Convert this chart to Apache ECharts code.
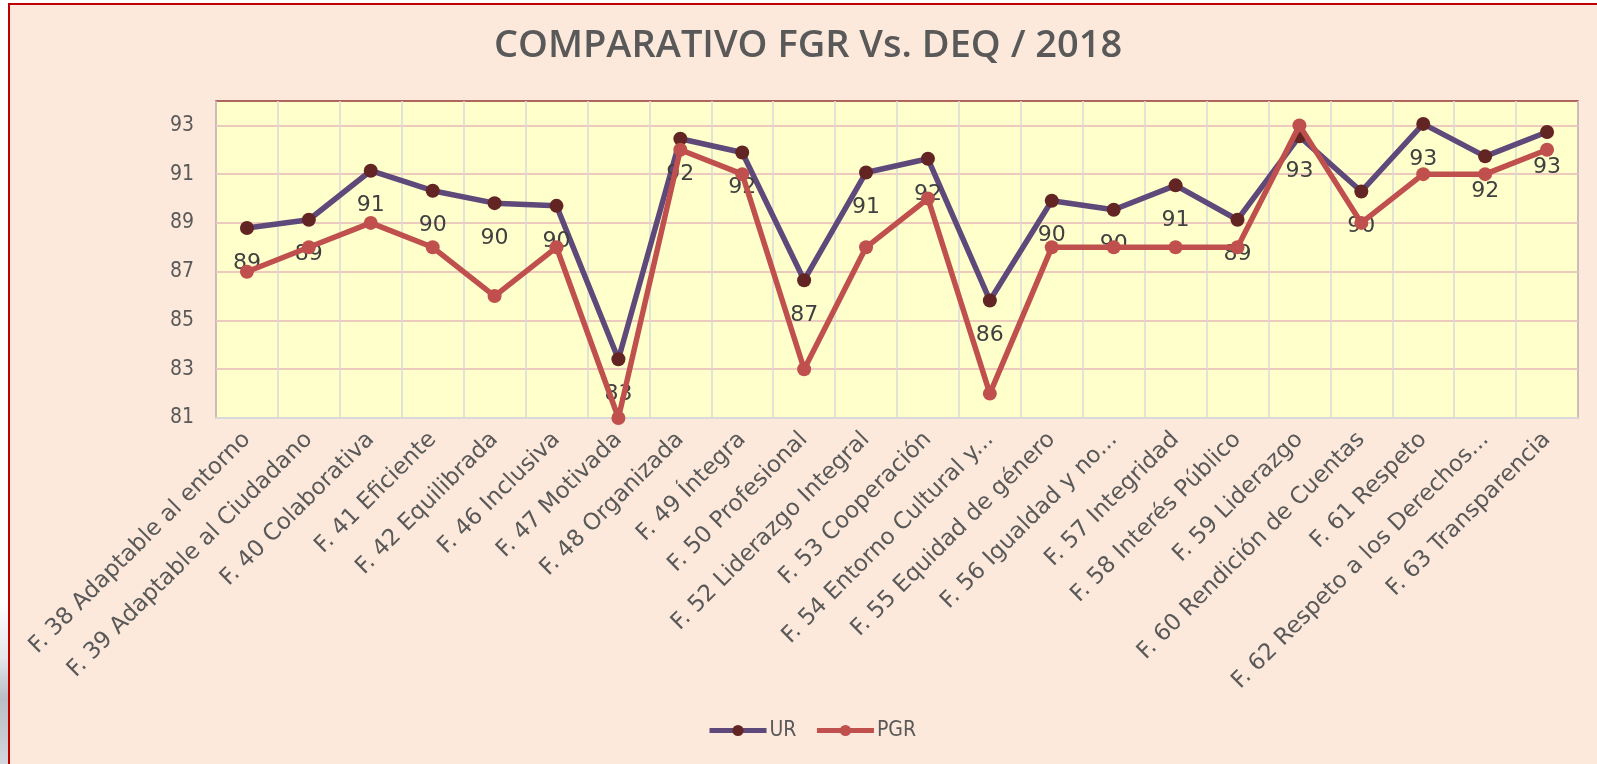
<!DOCTYPE html>
<html>
<head>
<meta charset="utf-8">
<title>COMPARATIVO FGR Vs. DEQ / 2018</title>
<script src="https://cdn.jsdelivr.net/npm/echarts@6/dist/echarts.min.js"></script>
<style>
  html, body { margin: 0; padding: 0; background: #ffffff; }
  #chart { width: 1597px; height: 764px; }
</style>
</head>
<body>
<div id="chart"></div>
<script>
// Factors evaluated
const categories = [
  'F. 38 Adaptable al entorno',
  'F. 39 Adaptable al Ciudadano',
  'F. 40 Colaborativa',
  'F. 41 Eficiente',
  'F. 42 Equilibrada',
  'F. 46 Inclusiva',
  'F. 47 Motivada',
  'F. 48 Organizada',
  'F. 49 Íntegra',
  'F. 50 Profesional',
  'F. 52 Liderazgo Integral',
  'F. 53 Cooperación',
  'F. 54 Entorno Cultural y...',
  'F. 55 Equidad de género',
  'F. 56 Igualdad y no...',
  'F. 57 Integridad',
  'F. 58 Interés Público',
  'F. 59 Liderazgo',
  'F. 60 Rendición de Cuentas',
  'F. 61 Respeto',
  'F. 62 Respeto a los Derechos...',
  'F. 63 Transparencia'
];

// UR scores
const urValues = [
  88.79, 89.13, 91.14, 90.32, 89.81, 89.70, 83.41, 92.45, 91.89, 86.65, 91.07,
  91.63, 85.82, 89.91, 89.54, 90.54, 89.13, 92.55, 90.29, 93.06, 91.73, 92.73
];

// PGR scores
const pgrValues = [
  87, 88, 89, 88, 86, 88, 81, 92, 91, 83, 88,
  90, 82, 88, 88, 88, 88, 93, 89, 91, 91, 92
];

// Value axis tick labels
const yTicks = [81, 83, 85, 87, 89, 91, 93];

const chart = echarts.init(document.getElementById('chart'), null, { renderer: 'canvas' });

const wideFont = "'DejaVu Sans', 'Open Sans', sans-serif";
const narrowFont = "'Liberation Sans Narrow', 'DejaVu Sans Condensed', 'Open Sans', sans-serif";

chart.setOption({
  backgroundColor: '#ffffff',
  animation: false,
  graphic: [
    {
      type: 'rect',
      z: -10,
      shape: { x: 0, y: 600, width: 9, height: 164 },
      style: {
        fill: new echarts.graphic.LinearGradient(0, 0, 0, 1, [
          { offset: 0, color: '#ffffff' },
          { offset: 0.35, color: '#e4e6ea' },
          { offset: 0.6, color: '#b9bec6' },
          { offset: 1, color: '#d3d6db' }
        ])
      }
    },
    {
      type: 'rect',
      z: -9,
      shape: { x: 9, y: 4, width: 1600, height: 780 },
      style: { fill: '#FDE9DB', stroke: '#C00000', lineWidth: 2 }
    }
  ],
  title: {
    text: 'COMPARATIVO FGR Vs. DEQ / 2018',
    left: 489,
    top: 22,
    textStyle: {
      fontFamily: "'Open Sans', 'Lato', sans-serif",
      fontWeight: 600,
      fontSize: 38,
      color: '#595959'
    }
  },
  legend: {
    bottom: 18,
    left: 702,
    itemWidth: 57,
    itemHeight: 14,
    itemGap: 18,
    lineStyle: { width: 5 },
    textStyle: { fontFamily: narrowFont, fontSize: 21, color: '#595959', padding: [0, 0, 0, -2] },
    data: ['UR', 'PGR']
  },
  grid: {
    left: 216,
    right: 19,
    top: 101,
    bottom: 346,
    show: true,
    backgroundColor: '#FFFFCC',
    borderColor: '#953735',
    borderWidth: 1.5
  },
  xAxis: {
    type: 'category',
    data: categories,
    boundaryGap: true,
    axisTick: { show: false },
    axisLine: { lineStyle: { color: '#D9D9D9', width: 2 } },
    splitLine: { show: true, interval: 0, lineStyle: { color: '#D9D9D9', width: 1.5 } },
    axisLabel: {
      interval: 0,
      rotate: 45,
      margin: 18,
      color: '#595959',
      fontFamily: wideFont,
      fontSize: 23
    }
  },
  yAxis: {
    type: 'value',
    min: 81,
    max: 94,
    axisLine: { show: false },
    axisTick: { show: false, customValues: yTicks },
    axisLabel: {
      customValues: yTicks,
      margin: 22,
      color: '#595959',
      fontFamily: narrowFont,
      fontSize: 21
    },
    splitLine: { show: true, lineStyle: { color: '#E6B9B8', width: 1.5 } }
  },
  series: [
    {
      name: 'UR',
      type: 'line',
      data: urValues,
      z: 2,
      symbol: 'circle',
      symbolSize: 14,
      lineStyle: { color: '#5F497A', width: 5.5 },
      itemStyle: { color: '#632523', borderWidth: 0 },
      label: {
        show: true,
        position: 'bottom',
        distance: 17,
        formatter: p => String(Math.round(p.value)),
        fontFamily: wideFont,
        fontSize: 22,
        color: '#404040'
      }
    },
    {
      name: 'PGR',
      type: 'line',
      data: pgrValues,
      z: 3,
      symbol: 'circle',
      symbolSize: 14,
      lineStyle: { color: '#C0504D', width: 5.5 },
      itemStyle: { color: '#C0504D', borderWidth: 0 }
    }
  ]
});
</script>
</body>
</html>
